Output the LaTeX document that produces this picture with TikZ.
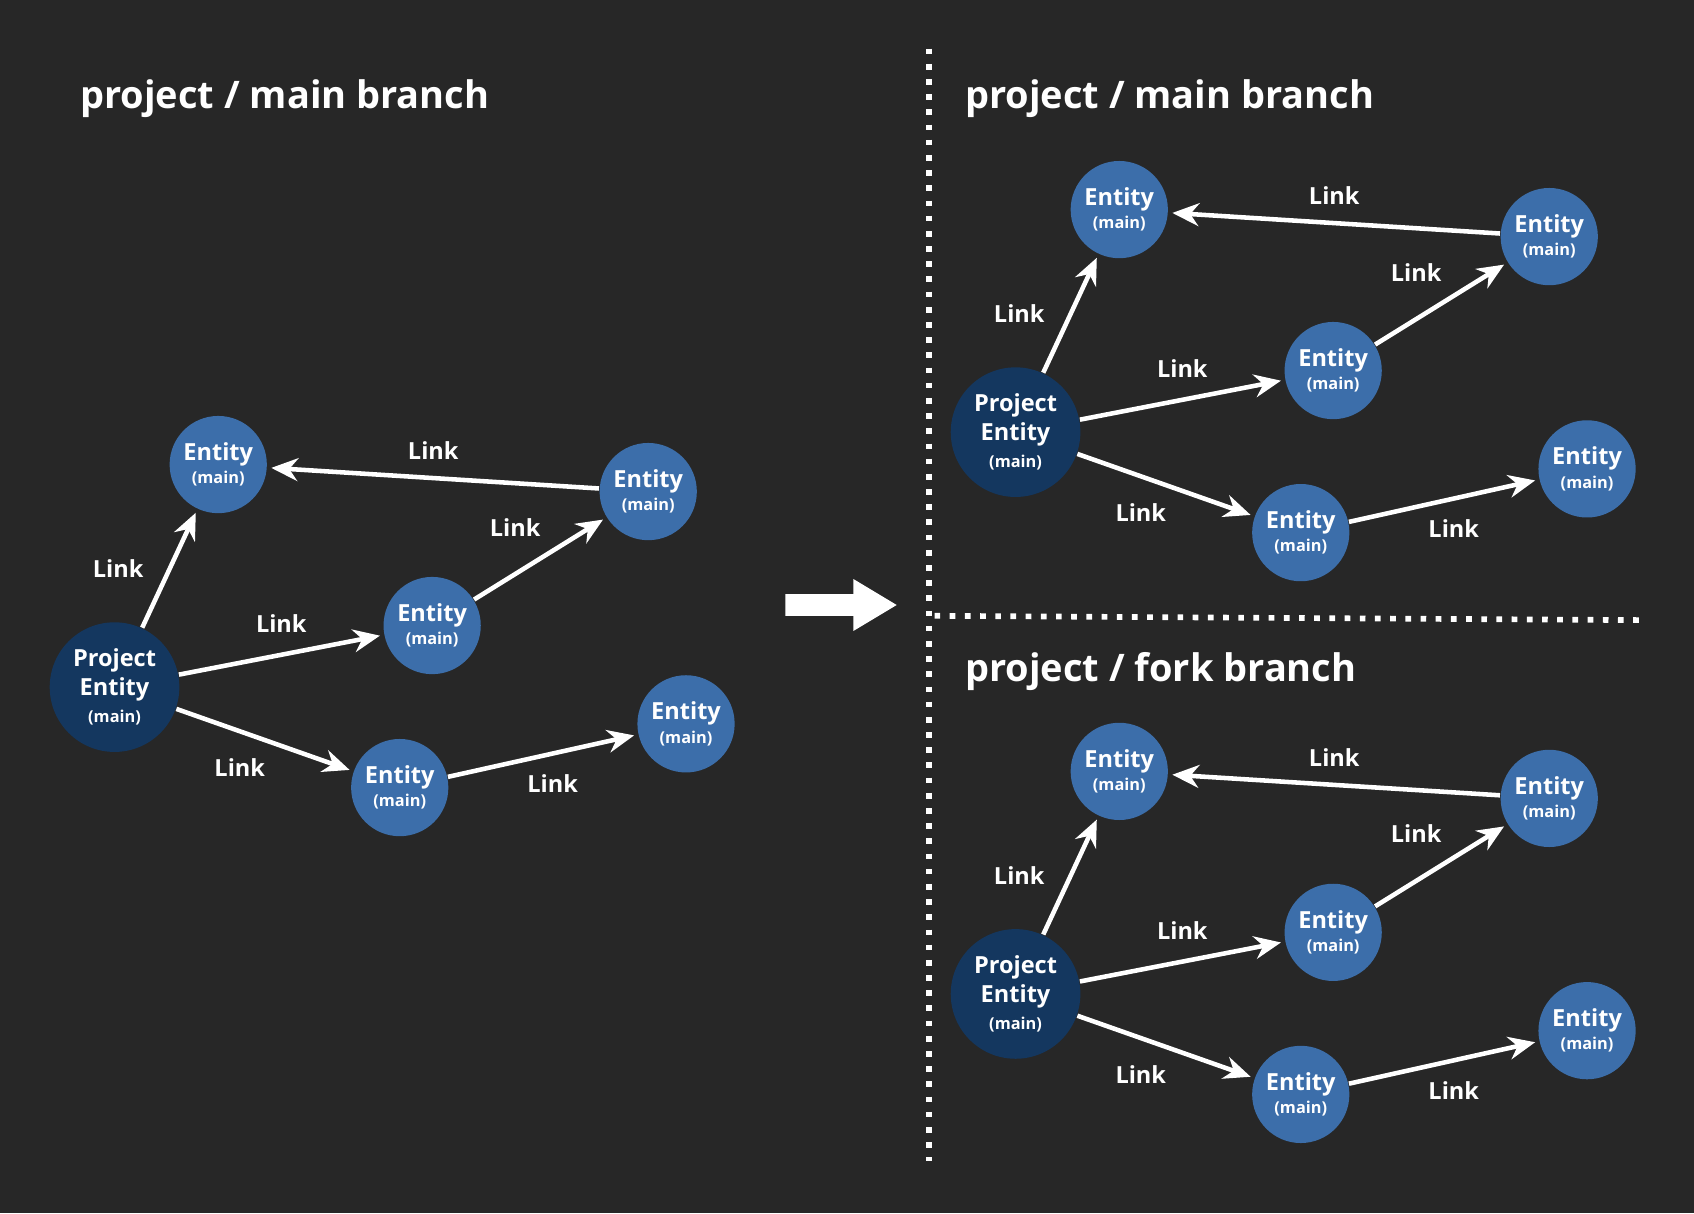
\documentclass[tikz,border=0pt]{standalone}
\usepackage{fontspec}
\setmainfont{Open Sans}
\usetikzlibrary{arrows.meta,positioning}
\definecolor{bgc}{HTML}{272727}
\definecolor{ent}{HTML}{3C6EAA}
\definecolor{proj}{HTML}{14375F}
\tikzset{
  entity/.style={circle,fill=ent,minimum size=0.9cm,inner sep=0pt,text=white,align=center,
    font=\bfseries\fontsize{6.2}{5.5}\selectfont},
  project/.style={circle,fill=proj,minimum size=1.2cm,inner sep=0pt,text=white,align=center,
    font=\bfseries\fontsize{6.2}{7.6}\selectfont},
  link/.style={white,line width=1.2pt,-{Stealth[length=7pt,width=6pt]},shorten >=1pt},
  lbl/.style={text=white,font=\bfseries\fontsize{6.2}{6.2}\selectfont},
  title/.style={text=white,font=\bfseries\fontsize{10}{10}\selectfont,anchor=west},
  sep/.style={white,line width=1.5pt,dash pattern=on 1.5pt off 2.5pt}
}
\newcommand{\ent}{Entity\\[0.6pt]{\fontsize{4.3}{4.3}\selectfont(main)}}
\newcommand{\linkgraph}[1]{%
  \node[project] (#1p) at (1.06,-6.36) {Project\\Entity\\[-0.5pt]{\fontsize{4.3}{4.3}\selectfont(main)}};
  \node[entity] (#1a) at (2.02,-4.30) {\ent};
  \node[entity] (#1b) at (6.00,-4.55) {\ent};
  \node[entity] (#1c) at (4.00,-5.79) {\ent};
  \node[entity] (#1d) at (3.70,-7.29) {\ent};
  \node[entity] (#1e) at (6.35,-6.70) {\ent};
  \draw[link] (#1p) -- node[lbl,left=3pt] {Link} (#1a);
  \draw[link] (#1b) -- node[lbl,above=1pt] {Link} (#1a);
  \draw[link] (#1c) -- node[lbl,above left=2pt and -4pt] {Link} (#1b);
  \draw[link] (#1p) -- node[lbl,above=2pt] {Link} (#1c);
  \draw[link] (#1p) -- node[lbl,below left=1pt and -4pt] {Link} (#1d);
  \draw[link] (#1d) -- node[lbl,below right=1pt and -8pt] {Link} (#1e);
}
\begin{document}
\begin{tikzpicture}
  \fill[bgc] (0,0) rectangle (15.68,-11.23);
  \useasboundingbox (0,0) rectangle (15.68,-11.23);

  % left
  \node[title] (t1) at (0.62,-0.91) {project / main branch};
  \linkgraph{l}

  % big arrow
  \fill[white] (7.27,-5.50) -- (7.90,-5.50) -- (7.90,-5.36) -- (8.30,-5.60)
    -- (7.90,-5.84) -- (7.90,-5.70) -- (7.27,-5.70) -- cycle;

  % separators
  \draw[sep] (8.60,-0.45) -- (8.60,-10.75);
  \draw[sep] (8.65,-5.70) -- (15.20,-5.74);

  % right top
  \node[title] (t2) at (8.81,-0.91) {project / main branch};
  \begin{scope}[xshift=8.34cm,yshift=2.36cm]
    \linkgraph{u}
  \end{scope}

  % right bottom
  \node[title] (t3) at (8.81,-6.22) {project / fork branch};
  \begin{scope}[xshift=8.34cm,yshift=-2.84cm]
    \linkgraph{w}
  \end{scope}
\end{tikzpicture}
\end{document}
